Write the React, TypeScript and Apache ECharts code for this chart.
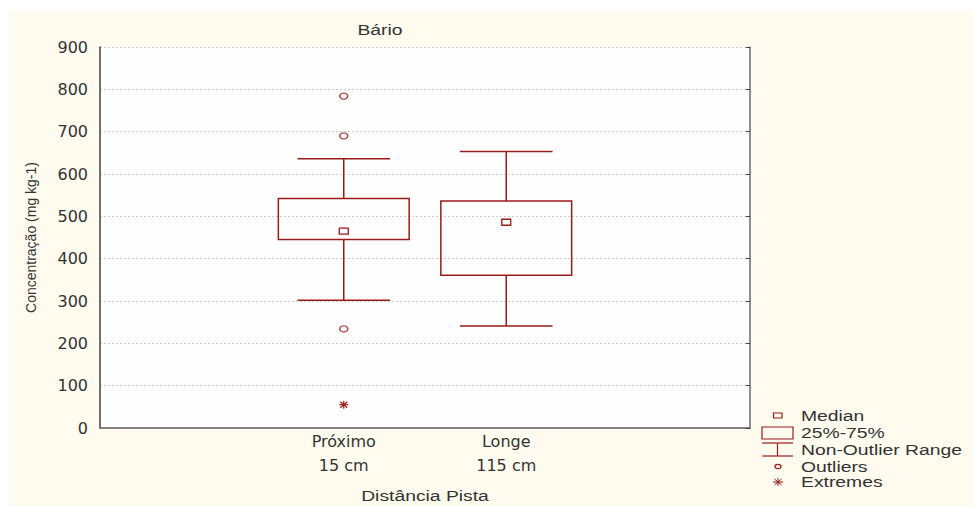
import React, { useEffect, useRef } from "react";
import * as echarts from "echarts";

const categoryNames = ["", "Próximo", "Longe", ""];
const distances = ["", "15 cm", "115 cm", ""];
const boxIndex = [1, 2];
const whiskerLow = [302, 241];
const q1 = [445, 361];
const median = [465, 486];
const q3 = [542, 536];
const whiskerHigh = [636, 653];
const outliers: [number, number][] = [
  [1, 784],
  [1, 690],
  [1, 234],
];
const extremes: [number, number][] = [[1, 55]];
const yTicks = [0, 100, 200, 300, 400, 500, 600, 700, 800, 900];
const legendItems = ["Median", "25%-75%", "Non-Outlier Range", "Outliers", "Extremes"];

const RED = "#9a1b1b";
const FONT = "Liberation Sans, Arial, sans-serif";
const WIDE = "DejaVu Sans, Verdana, sans-serif";
const SX = 1.38;

export default function App() {
  const ref = useRef<HTMLDivElement>(null);
  useEffect(() => {
    if (!ref.current) return;
    const chart = echarts.init(ref.current, undefined, { renderer: "svg" });
    const xLabels = categoryNames.map((n, i) => (n ? n + "\n" + distances[i] : ""));
    const boxData = boxIndex.map((c, i) => [c, whiskerLow[i], q1[i], median[i], q3[i], whiskerHigh[i]]);

    const legendX = 762;
    const legendTextX = 801;
    const legendY = [416, 433, 450, 467, 482];

    chart.setOption({
      animation: false,
      backgroundColor: "#ffffff",
      textStyle: { fontFamily: FONT },
      grid: { left: 100, right: 223, top: 47, bottom: 78, show: true, backgroundColor: "#fefefe", borderWidth: 0 },
      xAxis: [
        {
          type: "category",
          data: xLabels,
          position: "bottom",
          axisLine: { lineStyle: { color: "#404040", width: 1.5 } },
          axisTick: { inside: true, alignWithLabel: true, length: 4, lineStyle: { color: "#404040" } },
          axisLabel: { color: "#333", fontSize: 16, lineHeight: 24, margin: 1, fontFamily: WIDE },
          splitLine: { show: false },
        },
        {
          type: "category",
          data: xLabels,
          position: "top",
          axisLine: { lineStyle: { color: "#8a8a8a", width: 1.5 } },
          axisTick: { inside: true, alignWithLabel: true, length: 4, lineStyle: { color: "#404040" } },
          axisLabel: { show: false },
          splitLine: { show: false },
        },
      ],
      yAxis: [
        {
          type: "value",
          min: 0,
          max: 900,
          interval: 100,
          position: "left",
          name: "Concentração (mg kg-1)",
          nameLocation: "middle",
          nameRotate: 90,
          nameGap: 62,
          nameTextStyle: { color: "#333", fontSize: 14, fontFamily: FONT },
          axisLine: { show: true, lineStyle: { color: "#404040", width: 1.5 } },
          axisTick: { show: false },
          axisLabel: {
            color: "#333",
            fontSize: 16,
            margin: 12,
            fontFamily: WIDE,
            formatter: (v: number) => (yTicks.includes(v) ? String(v) : ""),
          },
          splitLine: { show: true, lineStyle: { color: "#cfcfcf", type: [2, 2], width: 1 } },
        },
        {
          type: "value",
          min: 0,
          max: 900,
          interval: 100,
          position: "right",
          axisLine: { show: true, lineStyle: { color: "#6a6a6a", width: 1.5 } },
          axisTick: { show: true, inside: true, length: 4, lineStyle: { color: "#404040" } },
          axisLabel: { show: false },
          splitLine: { show: false },
        },
      ],
      graphic: [
        { type: "rect", z: -10, silent: true, shape: { x: 9, y: 11, width: 973 - 9, height: 506 - 11 }, style: { fill: "#fffbef" } },
        { type: "rect", z: -9, silent: true, shape: { x: 100, y: 47, width: 650, height: 381 }, style: { fill: "#fefefe" } },
        { type: "text", x: 380, y: 30, scaleX: SX, style: { text: "Bário", fill: "#333", font: "14px " + FONT, align: "center", verticalAlign: "middle" } },
        { type: "text", x: 425, y: 496, scaleX: SX, style: { text: "Distância Pista", fill: "#333", font: "14px " + FONT, align: "center", verticalAlign: "middle" } },
        // legend symbols
        { type: "rect", shape: { x: 773.5, y: 413, width: 8.5, height: 5 }, style: { fill: "none", stroke: RED, lineWidth: 1.2 } },
        { type: "rect", shape: { x: legendX, y: 427, width: 31, height: 12 }, style: { fill: "none", stroke: RED, lineWidth: 1.2 } },
        { type: "line", shape: { x1: legendX, y1: 443, x2: legendX + 31, y2: 443 }, style: { stroke: RED, lineWidth: 1.2 } },
        { type: "line", shape: { x1: legendX + 15.5, y1: 443, x2: legendX + 15.5, y2: 456 }, style: { stroke: RED, lineWidth: 1.2 } },
        { type: "line", shape: { x1: legendX, y1: 456, x2: legendX + 31, y2: 456 }, style: { stroke: RED, lineWidth: 1.2 } },
        { type: "ellipse", shape: { cx: 778, cy: 466.5, rx: 3, ry: 2.2 }, style: { fill: "none", stroke: RED, lineWidth: 1.2 } },
        { type: "line", shape: { x1: 773, y1: 482, x2: 783, y2: 482 }, style: { stroke: RED, lineWidth: 1 } },
        { type: "line", shape: { x1: 778, y1: 478, x2: 778, y2: 486 }, style: { stroke: RED, lineWidth: 1 } },
        { type: "line", shape: { x1: 774.5, y1: 479, x2: 781.5, y2: 485 }, style: { stroke: RED, lineWidth: 1 } },
        { type: "line", shape: { x1: 781.5, y1: 479, x2: 774.5, y2: 485 }, style: { stroke: RED, lineWidth: 1 } },
        // legend texts
        ...legendItems.map((t, i) => ({
          type: "text",
          x: legendTextX,
          y: legendY[i],
          scaleX: SX,
          style: { text: t, fill: "#333", font: "14px " + FONT, verticalAlign: "middle" },
        })),
      ],
      series: [
        {
          type: "custom",
          xAxisIndex: 0,
          yAxisIndex: 0,
          data: boxData,
          renderItem: (params: any, api: any) => {
            const x = api.value(0);
            const pLow = api.coord([x, api.value(1)]);
            const pQ1 = api.coord([x, api.value(2)]);
            const pMed = api.coord([x, api.value(3)]);
            const pQ3 = api.coord([x, api.value(4)]);
            const pHigh = api.coord([x, api.value(5)]);
            const bw = api.size([1, 0])[0];
            const boxW = bw * 0.805;
            const capW = bw * 0.57;
            const cx = pQ1[0];
            const ls = { stroke: RED, lineWidth: 1.5, fill: "none" };
            return {
              type: "group",
              children: [
                { type: "line", shape: { x1: cx, y1: pQ3[1], x2: cx, y2: pHigh[1] }, style: ls },
                { type: "line", shape: { x1: cx, y1: pQ1[1], x2: cx, y2: pLow[1] }, style: ls },
                { type: "line", shape: { x1: cx - capW / 2, y1: pHigh[1], x2: cx + capW / 2, y2: pHigh[1] }, style: ls },
                { type: "line", shape: { x1: cx - capW / 2, y1: pLow[1], x2: cx + capW / 2, y2: pLow[1] }, style: ls },
                { type: "rect", shape: { x: cx - boxW / 2, y: pQ3[1], width: boxW, height: pQ1[1] - pQ3[1] }, style: ls },
                { type: "rect", shape: { x: cx - 4.5, y: pMed[1] - 3, width: 9, height: 6 }, style: { ...ls, lineWidth: 1.3 } },
              ],
            };
          },
        },
        {
          type: "scatter",
          xAxisIndex: 0,
          yAxisIndex: 0,
          data: outliers,
          symbol: "circle",
          symbolSize: [8, 6],
          itemStyle: { color: "rgba(0,0,0,0)", borderColor: RED, borderWidth: 1.4 },
          silent: true,
        },
        {
          type: "custom",
          xAxisIndex: 0,
          yAxisIndex: 0,
          data: extremes,
          renderItem: (params: any, api: any) => {
            const p = api.coord([api.value(0), api.value(1)]);
            const s = { stroke: RED, lineWidth: 1.2 };
            return {
              type: "group",
              children: [
                { type: "line", shape: { x1: p[0] - 4.5, y1: p[1], x2: p[0] + 4.5, y2: p[1] }, style: s },
                { type: "line", shape: { x1: p[0], y1: p[1] - 4, x2: p[0], y2: p[1] + 4 }, style: s },
                { type: "line", shape: { x1: p[0] - 3.5, y1: p[1] - 3, x2: p[0] + 3.5, y2: p[1] + 3 }, style: s },
                { type: "line", shape: { x1: p[0] + 3.5, y1: p[1] - 3, x2: p[0] - 3.5, y2: p[1] + 3 }, style: s },
              ],
            };
          },
        },
      ],
    });
    return () => chart.dispose();
  }, []);
  return <div ref={ref} style={{ position: "fixed", left: 0, top: 0, width: 973, height: 506 }} />;
}
